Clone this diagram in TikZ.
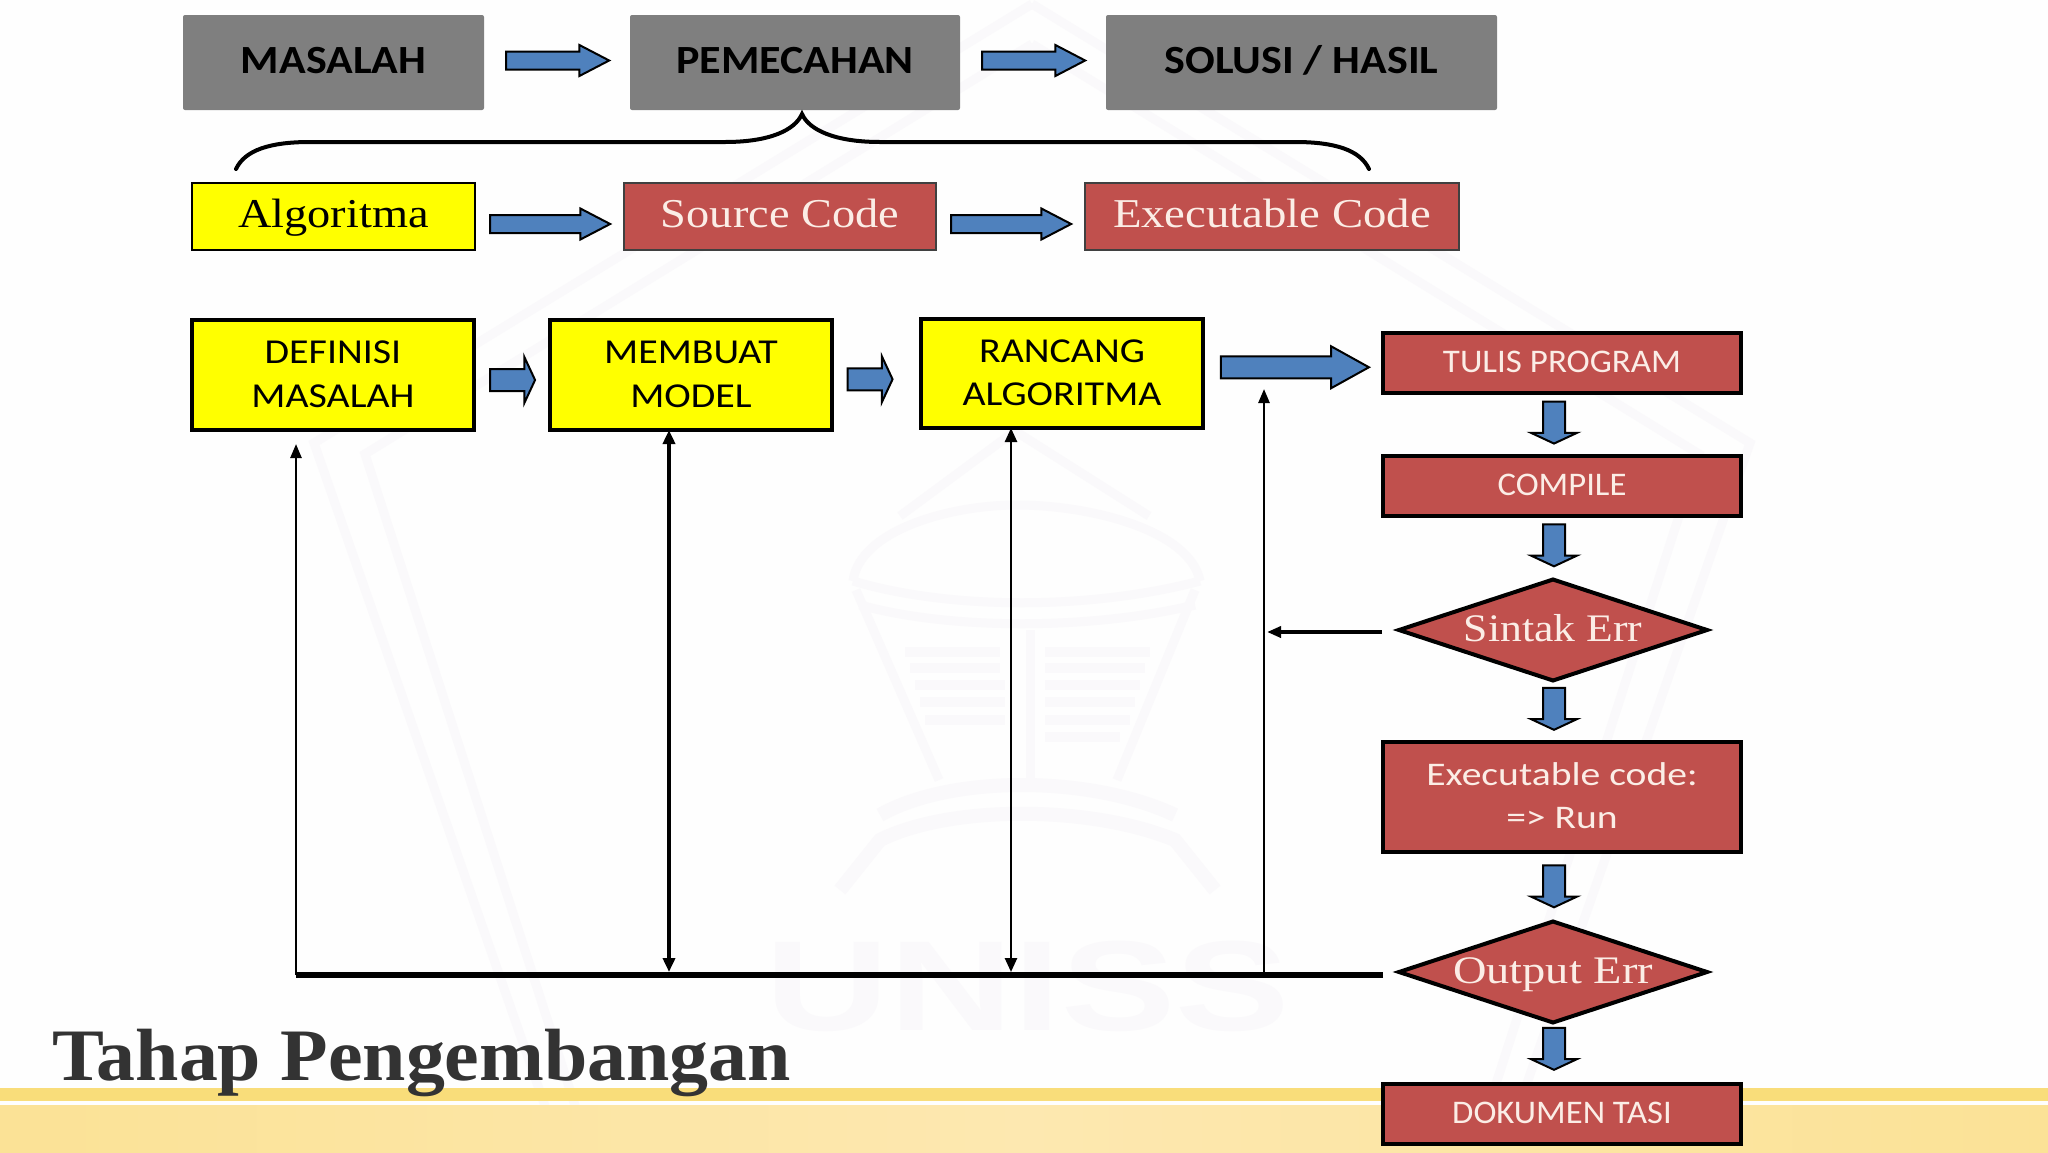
\documentclass[tikz,border=0pt]{standalone}
\usepackage{graphicx}
\usepackage{fontspec}
\setmainfont{Liberation Serif}
\newfontfamily\carl{Carlito}
\newfontfamily\lsans{Liberation Sans}
\usetikzlibrary{shapes.geometric,shapes.arrows,arrows.meta}
\definecolor{redbox}{HTML}{C0504D}
\definecolor{bluearr}{HTML}{4F81BD}
\definecolor{greybox}{HTML}{7F7F7F}
\definecolor{wm}{HTML}{FAF9FB}
\definecolor{titlec}{HTML}{333333}
\definecolor{bandA}{HTML}{F9DD7A}
\definecolor{bandB}{HTML}{FBE296}
\definecolor{bandC}{HTML}{FDE8B0}
\definecolor{yel}{RGB}{255,255,0}
\definecolor{paper}{RGB}{254,254,254}
\definecolor{redtext}{HTML}{FBEDE6}
\newcommand{\sx}[2]{\scalebox{#1}[1]{#2}}
\newcommand{\drop}[2]{\raisebox{-#1}[0pt][0pt]{#2}}
\tikzset{
 x=1pt,y=-1pt,
 every node/.style={outer sep=0pt,inner sep=0pt,align=center},
 greyb/.style={fill=greybox,rounded corners=2pt,minimum height=95pt,font=\carl\bfseries\fontsize{40}{42}\selectfont,text=black},
 row2y/.style={fill=yel,draw=black,line width=2pt,minimum height=67pt,font=\fontsize{41}{44}\selectfont,text=black},
 row2r/.style={fill=redbox,draw=black!75,line width=2pt,minimum height=67pt,font=\fontsize{41}{44}\selectfont,text=redtext},
 stepy/.style={fill=yel,draw=black,line width=4pt,minimum width=282pt,font=\carl\fontsize{35}{44}\selectfont,text=black},
 stepr/.style={fill=redbox,draw=black,line width=4pt,minimum width=358pt,font=\carl\fontsize{33}{43}\selectfont,text=redtext},
 dec/.style={diamond,aspect=3.05,fill=redbox,draw=black,line width=4pt,minimum width=308pt,minimum height=101pt,font=\fontsize{39}{42}\selectfont,text=redtext},
 fat/.style={single arrow,fill=bluearr,draw=black,line width=2pt,text height=0pt,text depth=0pt,text width=0pt},
 arrlong/.style={fat,minimum height=103pt,inner ysep=8pt,minimum width=29pt,single arrow head extend=6.5pt,single arrow tip angle=55},
 arrshort/.style={fat,minimum height=45pt,inner ysep=10pt,minimum width=46pt,single arrow head extend=12pt,single arrow tip angle=130},
 arrbig/.style={fat,minimum height=148pt,inner ysep=10pt,minimum width=40pt,single arrow head extend=10pt,single arrow tip angle=58},
 arrdown/.style={fat,shape border rotate=270,minimum height=42pt,inner xsep=10pt,inner ysep=10pt,minimum width=46pt,single arrow head extend=12pt,single arrow tip angle=130},
 fb/.style={line width=2.5pt,black,-{Triangle[length=14pt,width=11pt]}},
 fbd/.style={line width=3.5pt,black,{Triangle[length=14pt,width=12pt]}-{Triangle[length=14pt,width=12pt]}},
}
\begin{document}
\begin{tikzpicture}
\useasboundingbox (0,0) rectangle (2048,1152);
\fill[paper] (0,0) rectangle (2048,1152);
% watermark
\begin{scope}[draw=wm,line width=9pt]
\draw (1032,4) -- (314,443) -- (561,1152);
\draw (1032,44) -- (365,454) -- (590,1152);
\draw (1032,4) -- (1750,443) -- (1503,1152);
\draw (1032,44) -- (1699,454) -- (1474,1152);
\draw (900,516) -- (1015,431) -- (1149,516);
\draw (853,581) .. controls (860,530) and (950,505) .. (1017,505) .. controls (1090,505) and (1190,530) .. (1200,581);
\draw (853,581) .. controls (950,610) and (1090,610) .. (1200,581);
\draw (860,605) .. controls (950,630) and (1090,630) .. (1195,605);
\draw (856,590) -- (939,780);
\draw (1195,590) -- (1117,780);
\draw (1030,630) -- (1030,780);
\draw[line width=10pt] (905,652) -- (1000,652) (910,668) -- (1000,668) (915,685) -- (1005,685) (920,702) -- (1005,702) (925,720) -- (1005,720);
\draw[line width=10pt] (1045,652) -- (1150,652) (1045,668) -- (1145,668) (1045,685) -- (1140,685) (1045,702) -- (1135,702) (1045,720) -- (1130,720) (1045,737) -- (1120,737);
\draw[line width=14pt] (880,815) .. controls (950,775) and (1090,775) .. (1175,815);
\draw[line width=14pt] (840,890) -- (880,840) .. controls (950,805) and (1090,805) .. (1175,840) -- (1215,890);
\end{scope}
\node[text=wm,font=\lsans\bfseries\fontsize{128}{130}\selectfont] (wmtext) at (1028,986) {\sx{1.34}{UNISS}};
% footer band
\fill[bandA] (0,1088) rectangle (2048,1101);
\fill[left color=bandB,right color=bandB,middle color=bandC] (0,1105) rectangle (2048,1152);
% row 1
\node[greyb,minimum width=301pt] (masalah) at (333.5,62.5) {\drop{11pt}{\sx{1.1}{MASALAH}}};
\node[greyb,minimum width=330pt] (pemecahan) at (795,62.5) {\drop{11pt}{\sx{1.1}{PEMECAHAN}}};
\node[greyb,minimum width=391pt] (solusi) at (1301.5,62.5) {\drop{11pt}{\sx{1.1}{SOLUSI / HASIL}}};
\path (masalah.east) -- node[arrlong,xshift=-8pt,yshift=2pt] (a1) {} (pemecahan.west);
\path (pemecahan.east) -- node[arrlong,xshift=-8pt,yshift=2pt] (a2) {} (solusi.west);
% brace
\coordinate (brL) at (236,169);
\coordinate (brR) at (1369,169);
\coordinate (brT) at (802,114);
\draw[line width=4pt,line cap=round] (brL) .. controls (245,150) and (270,142) .. (310,142) -- (725,142) .. controls (770,142) and (795,130) .. (brT) .. controls (809,130) and (835,142) .. (880,142) -- (1295,142) .. controls (1335,142) and (1360,150) .. (brR);
% row 2
\node[row2y,minimum width=283pt] (algo) at (333.5,216.5) {\drop{11pt}{\sx{1.13}{Algoritma}}};
\node[row2r,minimum width=312pt] (source) at (780,216.5) {\drop{11pt}{\sx{1.13}{Source Code}}};
\node[row2r,minimum width=374pt] (execc) at (1272,216.5) {\drop{11pt}{\sx{1.14}{Executable Code}}};
\path (algo.east) -- node[arrlong,minimum height=120pt,xshift=-8pt,yshift=-7.5pt] (a3) {} (source.west);
\path (source.east) -- node[arrlong,minimum height=120pt,xshift=-8pt,yshift=-7.5pt] (a4) {} (execc.west);
% row 3
\node[stepy,minimum height=110pt] (defi) at (333,375) {\raisebox{1pt}{\sx{1.14}{DEFINISI}}\\\raisebox{1pt}{\sx{1.14}{MASALAH}}};
\node[stepy,minimum height=110pt] (model) at (691,375) {\raisebox{1pt}{\sx{1.14}{MEMBUAT}}\\\raisebox{1pt}{\sx{1.14}{MODEL}}};
\node[stepy,minimum height=109pt] (ranc) at (1062,373.5) {\raisebox{1pt}{\sx{1.14}{RANCANG}}\\\raisebox{2pt}{\sx{1.14}{ALGORITMA}}};
\node[stepr,minimum height=60pt] (tulis) at (1562,363) {\raisebox{1.5pt}{\sx{1.06}{TULIS PROGRAM}}};
\node[stepr,minimum height=60pt] (comp) at (1562,486) {\raisebox{1.5pt}{\sx{1.05}{COMPILE}}};
\node[dec] (sintak) at (1553,630) {\drop{11pt}{\sx{1.12}{Sintak Err}}};
\node[stepr,minimum height=110pt] (run) at (1562,797) {\raisebox{2.5pt}{\sx{1.2}{Executable code:}}\\\raisebox{2.5pt}{\sx{1.2}{=> Run}}};
\node[dec] (outp) at (1553,972) {\drop{11pt}{\sx{1.19}{Output Err}}};
\node[stepr,minimum height=60pt] (doku) at (1562,1114) {\raisebox{2pt}{\sx{1.05}{DOKUMEN TASI}}};
\path (defi.east) -- node[arrshort,xshift=-2pt,yshift=-5pt] (a5) {} (model.west);
\path (model.east) -- node[arrshort,xshift=-9pt,yshift=-5pt] (a6) {} (ranc.west);
\path (ranc.east) -- node[arrbig,xshift=-8pt,yshift=1pt] (a7) {} (tulis.west);
\path (tulis.south -| sintak) -- node[arrdown,xshift=1pt,yshift=4.5pt] (d1) {} (comp.north -| sintak);
\path (comp.south -| sintak) -- node[arrdown,xshift=1pt,yshift=5pt] (d2) {} (sintak.north);
\path (sintak.south) -- node[arrdown,xshift=1pt,yshift=5pt] (d3) {} (run.north -| sintak);
\path (run.south -| sintak) -- node[arrdown,xshift=1pt,yshift=3pt] (d4) {} (outp.north);
\path (outp.south) -- node[arrdown,xshift=1pt,yshift=7pt] (d5) {} (doku.north -| sintak);
% feedback
\coordinate (busL) at (296,975);
\coordinate (busR) at (1383,975);
\coordinate (busA) at (669,972);
\coordinate (busB) at (1011,972);
\coordinate (busC) at (1264,972);
\coordinate (defiEnd) at (296,444);
\coordinate (syL) at (1382,632);
\coordinate (syE) at (1267,632);
\coordinate (tulEnd) at (1264,389);
\draw[line width=6pt,black] (busR) -- (busL);
\draw[fb] (busL) -- (defiEnd);
\draw[fbd] (busA) -- (busA |- model.south);
\draw[fbd,line width=2.5pt] (busB) -- (busB |- ranc.south);
\draw[fb] (busC) -- (tulEnd);
\draw[fb,line width=3.5pt] (syL) -- (syE);
% title
\node[anchor=base west,text=titlec,font=\bfseries\fontsize{74}{80}\selectfont] (title) at (52,1080) {\sx{1.052}{Tahap Pengembangan}};
\end{tikzpicture}
\end{document}
